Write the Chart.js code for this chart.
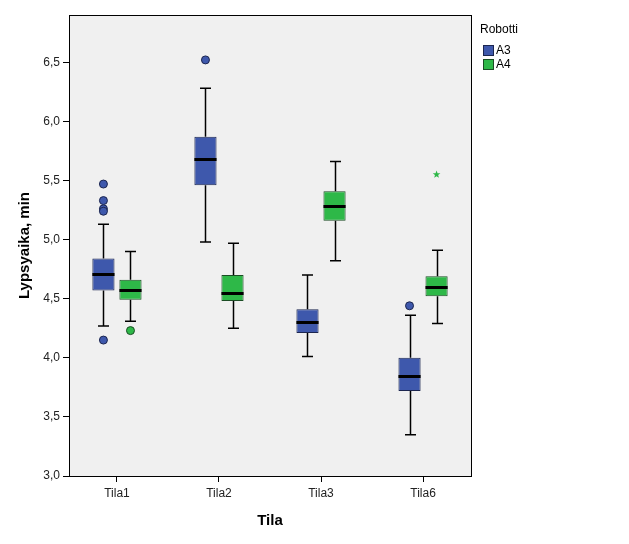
<!DOCTYPE html>
<html>
<head>
<meta charset="utf-8">
<script src="https://cdn.jsdelivr.net/npm/chart.js@4"></script>
<style>
  html, body { margin: 0; padding: 0; background: #fff; }
  #wrap { width: 629px; height: 544px; }
</style>
</head>
<body>
<div id="wrap"><canvas id="boxChart" width="629" height="544"></canvas></div>
<script>
const categories = ["Tila1", "Tila2", "Tila3", "Tila6"];
const seriesNames = ["A3", "A4"];
const seriesColors = ["#3E58AC", "#2EB848"];
const seriesBorders = ["#1c2650", "#1b4d24"];

// box statistics
const a3Min = [4.27, 4.98, 4.01, 3.35];
const a3Q1 = [4.57, 5.46, 4.21, 3.72];
const a3Median = [4.71, 5.68, 4.30, 3.85];
const a3Q3 = [4.84, 5.87, 4.41, 4.00];
const a3Max = [5.13, 6.28, 4.70, 4.36];
const a3Outliers = [[5.47, 5.33, 5.26, 5.24, 4.15], [6.52], [], [4.44]];
const a3Extremes = [[], [], [], []];

const a4Min = [4.31, 4.25, 4.82, 4.29];
const a4Q1 = [4.49, 4.48, 5.16, 4.52];
const a4Median = [4.57, 4.55, 5.28, 4.60];
const a4Q3 = [4.66, 4.70, 5.41, 4.69];
const a4Max = [4.90, 4.97, 5.66, 4.91];
const a4Outliers = [[4.23], [], [], []];
const a4Extremes = [[], [], [], [5.55]];

const yTitle = "Lypsyaika, min";
const xTitle = "Tila";
const legendTitle = "Robotti";

const stats = [
  { min: a3Min, q1: a3Q1, med: a3Median, q3: a3Q3, max: a3Max, out: a3Outliers, ext: a3Extremes },
  { min: a4Min, q1: a4Q1, med: a4Median, q3: a4Q3, max: a4Max, out: a4Outliers, ext: a4Extremes },
];

const FONT = "'Liberation Sans', Arial, sans-serif";

function drawStar(ctx, cx, cy, r) {
  ctx.beginPath();
  for (let k = 0; k < 10; k++) {
    const rr = k % 2 === 0 ? r : r * 0.42;
    const ang = -Math.PI / 2 + k * Math.PI / 5;
    const px = cx + rr * Math.cos(ang);
    const py = cy + rr * Math.sin(ang);
    if (k === 0) ctx.moveTo(px, py); else ctx.lineTo(px, py);
  }
  ctx.closePath();
  ctx.fill();
}

const boxPlugin = {
  id: "boxExtras",
  beforeDraw(chart) {
    const { ctx, chartArea: a } = chart;
    ctx.save();
    ctx.fillStyle = "#F0F0F0";
    ctx.fillRect(a.left, a.top, a.right - a.left, a.bottom - a.top);
    ctx.restore();
  },
  beforeDatasetsDraw(chart) {
    // whiskers go behind the boxes
    const { ctx } = chart;
    const y = chart.scales.y;
    ctx.save();
    ctx.strokeStyle = "#000";
    ctx.lineWidth = 1.5;
    stats.forEach((s, i) => {
      chart.getDatasetMeta(i).data.forEach((bar, j) => {
        const x = Math.round(bar.x) + 0.5;
        const capW = 11;
        const yMax = y.getPixelForValue(s.max[j]);
        const yMin = y.getPixelForValue(s.min[j]);
        ctx.beginPath();
        ctx.moveTo(x, y.getPixelForValue(s.q3[j]));
        ctx.lineTo(x, yMax);
        ctx.moveTo(x, y.getPixelForValue(s.q1[j]));
        ctx.lineTo(x, yMin);
        ctx.moveTo(x - capW / 2, yMax);
        ctx.lineTo(x + capW / 2, yMax);
        ctx.moveTo(x - capW / 2, yMin);
        ctx.lineTo(x + capW / 2, yMin);
        ctx.stroke();
      });
    });
    ctx.restore();
  },
  afterDatasetsDraw(chart) {
    const { ctx } = chart;
    const y = chart.scales.y;
    ctx.save();
    stats.forEach((s, i) => {
      chart.getDatasetMeta(i).data.forEach((bar, j) => {
        const x = bar.x;
        const w = bar.width;
        // median
        ctx.strokeStyle = "#000";
        ctx.lineWidth = 3;
        ctx.beginPath();
        const my = Math.round(y.getPixelForValue(s.med[j])) + 0.5;
        ctx.moveTo(x - w / 2, my);
        ctx.lineTo(x + w / 2, my);
        ctx.stroke();
        // outliers
        s.out[j].forEach(v => {
          ctx.beginPath();
          ctx.arc(x, y.getPixelForValue(v), 4, 0, Math.PI * 2);
          ctx.fillStyle = seriesColors[i];
          ctx.fill();
          ctx.lineWidth = 1;
          ctx.strokeStyle = seriesBorders[i];
          ctx.stroke();
        });
        // extremes
        s.ext[j].forEach(v => {
          ctx.fillStyle = seriesColors[i];
          drawStar(ctx, x, y.getPixelForValue(v), 4);
        });
      });
    });
    ctx.restore();
  },
  afterDraw(chart) {
    const { ctx, chartArea: a } = chart;
    ctx.save();
    ctx.strokeStyle = "#000";
    ctx.lineWidth = 1;
    ctx.strokeRect(Math.round(a.left) + 0.5, Math.round(a.top) + 0.5,
      Math.round(a.right - a.left), Math.round(a.bottom - a.top));
    // legend
    ctx.fillStyle = "#000";
    ctx.font = "12px " + FONT;
    ctx.textBaseline = "middle";
    ctx.textAlign = "left";
    ctx.fillText(legendTitle, a.right + 9, 30);
    seriesNames.forEach((n, i) => {
      const top = 45 + i * 14;
      ctx.fillStyle = seriesColors[i];
      ctx.fillRect(483, top, 11, 11);
      ctx.strokeStyle = seriesBorders[i];
      ctx.strokeRect(483.5, top + 0.5, 10, 10);
      ctx.fillStyle = "#000";
      ctx.fillText(n, 496, top + 6);
    });
    ctx.restore();
  }
};

new Chart(document.getElementById("boxChart"), {
  type: "bar",
  data: {
    datasets: stats.map((s, i) => ({
      label: seriesNames[i],
      data: s.q1.map((v, j) => ({ x: j, y: [v, s.q3[j]] })),
      backgroundColor: seriesColors[i],
      borderColor: seriesBorders[i],
      borderWidth: 1,
      borderSkipped: false,
      categoryPercentage: 0.53,
      barPercentage: 0.82,
    })),
  },
  options: {
    responsive: false,
    animation: false,
    layout: { padding: { left: 0, top: 15, right: 158, bottom: 0 } },
    plugins: { legend: { display: false }, tooltip: { enabled: false } },
    scales: {
      x: {
        type: "linear",
        min: -0.47,
        max: 3.47,
        offset: false,
        afterFit: (scale) => { scale.height = 68; },
        afterBuildTicks: (scale) => { scale.ticks = categories.map((c, j) => ({ value: j })); },
        grid: { offset: false, drawOnChartArea: false, tickLength: 6, color: "#000", lineWidth: 1 },
        border: { color: "#000" },
        ticks: {
          color: "#222",
          font: { family: FONT, size: 12 },
          padding: 4,
          callback: (v) => categories[v],
        },
        title: { display: true, text: xTitle, color: "#000", font: { family: FONT, size: 15, weight: "bold" }, padding: { bottom: 14 } },
      },
      y: {
        min: 3.0,
        max: 6.9,
        afterFit: (scale) => { scale.width = 69; },
        grid: { drawOnChartArea: false, tickLength: 6, color: "#000", lineWidth: 1 },
        border: { color: "#000" },
        ticks: {
          stepSize: 0.5,
          includeBounds: false,
          color: "#222",
          padding: 3,
          font: { family: FONT, size: 12 },
          callback: (v) => v.toFixed(1).replace(".", ","),
        },
        title: { display: true, text: yTitle, color: "#000", font: { family: FONT, size: 15, weight: "bold" }, padding: { top: 16 } },
      },
    },
  },
  plugins: [boxPlugin],
});
</script>
</body>
</html>
